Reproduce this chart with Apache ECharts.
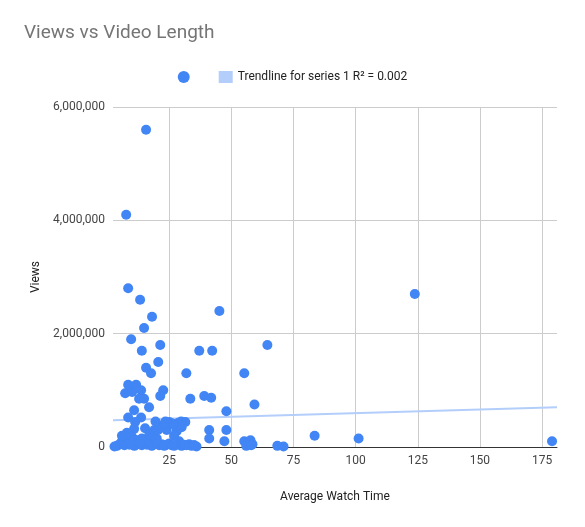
<!DOCTYPE html>
<html><head><meta charset="utf-8">
<script src="https://cdn.jsdelivr.net/npm/echarts@6/dist/echarts.min.js"></script>
<style>html,body{margin:0;padding:0;background:#fff}#c{width:585px;height:527px}</style>
</head><body><div id="c"></div>
<script>
const watchTime = [15.7,7.7,8.5,13.3,18.1,14.9,9.7,21.4,14,20.6,15.7,17.7,22.6,21.4,7.3,8.5,11.7,10.1,13.7,12.9,14.9,16.9,10.9,8.5,13.7,15.3,11.3,10.9,
 45.2,37.1,42.3,64.5,31.9,55.2,33.5,39.1,41.9,59.3,48,31.5,29.8,28.8,41.1,48,47.2,41.1,123.8,83.5,101.2,179,55.2,57.7,58.5,68.5,71,
 4,5,6,7,8,9,10,11,12,13,14,15,16,17,18,19,20,21,22,23,24,25,26,27,28,29,30,31,32,33,34,35,36,
 6,8,10,12,14,16,18,20,22,24,26,28,30,9,11,13,17,19,21,23,25,27,56,58,3,19.5,23.5,26.5,20.5,35];
const views = [5.6,4.1,2.8,2.6,2.3,2.1,1.9,1.8,1.7,1.5,1.4,1.3,1.0,0.9,0.95,1.1,1.1,0.97,1.0,0.85,0.85,0.7,0.65,0.52,0.52,0.33,0.44,0.32,
 2.4,1.7,1.7,1.8,1.3,1.3,0.85,0.9,0.87,0.75,0.63,0.44,0.45,0.43,0.3,0.3,0.1,0.15,2.7,0.2,0.15,0.1,0.1,0.12,0.05,0.02,0.01,
 0.02,0.05,0.1,0.03,0.15,0.04,0.08,0.02,0.12,0.05,0.03,0.1,0.04,0.06,0.02,0.05,0.08,0.03,0.05,0.02,0.04,0.06,0.03,0.02,0.05,0.1,0.02,0.04,0.03,0.05,0.02,0.03,0.01,
 0.2,0.25,0.18,0.1,0.15,0.12,0.2,0.15,0.35,0.3,0.42,0.28,0.35,0.07,0.13,0.09,0.22,0.3,0.38,0.4,0.44,0.2,0.02,0.03,0.01,0.45,0.45,0.4,0.3,0.03];
const trendX = [2.4, 181];
const trendY = [0.47, 0.7];
const yTicks = [0, 2000000, 4000000, 6000000];
const xTicks = [25, 50, 75, 100, 125, 150, 175];

const pts = watchTime.map((x,i)=>[x, views[i]*1e6]);
const trend = trendX.map((x,i)=>[x, trendY[i]*1e6]);
const chart = echarts.init(document.getElementById('c'));
chart.setOption({
  animation:false,
  title:{text:'Views vs Video Length',left:19,top:19,textStyle:{fontFamily:'Roboto',fontSize:19,fontWeight:'normal',color:'#757575'}},
  legend:{top:66,left:'center',itemGap:20,textStyle:{fontFamily:'Roboto',fontSize:12,color:'#222'},
    data:[{name:' ',icon:'circle',itemStyle:{color:'#4285f4'}},{name:'Trendline for series 1 R² = 0.002',icon:'rect',itemHeight:3}],
    itemWidth:14,itemHeight:12},
  grid:{left:113,right:28,top:107,bottom:80},
  xAxis:{type:'value',min:2.4,max:181,name:'Average Watch Time',nameLocation:'middle',nameGap:44,
    nameTextStyle:{fontFamily:'Roboto',fontSize:12,color:'#222'},
    axisLine:{show:true,onZero:false,lineStyle:{color:'#333'}},axisTick:{show:false,customValues:xTicks},
    axisLabel:{customValues:xTicks,fontFamily:'Roboto',fontSize:12,color:'#444'},
    splitLine:{show:true,lineStyle:{color:'#ccc'}}},
  yAxis:{type:'value',min:0,max:6000000,interval:2000000,name:'Views',nameLocation:'middle',nameGap:58,
    nameTextStyle:{fontFamily:'Roboto',fontSize:12,color:'#222'},
    axisLine:{show:false},axisTick:{show:false},
    axisLabel:{fontFamily:'Roboto',fontSize:12,color:'#444'},
    splitLine:{lineStyle:{color:'#ccc'}}},
  series:[
    {name:' ',type:'scatter',data:pts,symbolSize:10,itemStyle:{color:'#4285f4',opacity:1},z:3},
    {name:'Trendline for series 1 R² = 0.002',type:'line',data:trend,showSymbol:false,symbol:'none',
     lineStyle:{color:'#b3cefb',width:2},itemStyle:{color:'#b3cefb'},z:2}
  ]
});
</script></body></html>
